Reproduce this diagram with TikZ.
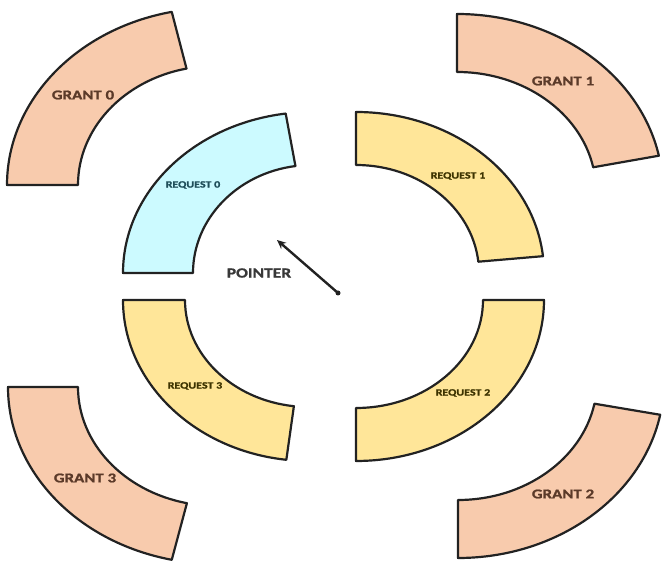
\documentclass[tikz,border=0pt]{standalone}
\usepackage{fontspec}
\setmainfont{Carlito}
\newfontfamily\lblfont[FakeStretch=1.25,FakeBold=1.2]{Carlito}
\usetikzlibrary{calc,arrows.meta}

\definecolor{grantfill}{HTML}{F8CBAD}
\definecolor{reqfill}{HTML}{FFE699}
\definecolor{activefill}{HTML}{CCFAFF}
\definecolor{granttext}{HTML}{5B3A29}
\definecolor{reqtext}{HTML}{3D3300}
\definecolor{activetext}{HTML}{1F4E5A}
\definecolor{edge}{HTML}{222222}

% block arc: style, centre, start, end, outer x/y radius, inner x/y radius
\newcommand{\ringpart}[8]{%
  \draw[#1] ($(#2)+(#3:#5 and #6)$) arc[start angle=#3, end angle=#4, x radius=#5, y radius=#6]
    -- ($(#2)+(#4:#7 and #8)$) arc[start angle=#4, end angle=#3, x radius=#7, y radius=#8] -- cycle;}

\begin{document}
\begin{tikzpicture}[x=1pt, y=1pt,
    grantarc/.style={draw=edge, line width=2.2pt, fill=grantfill, line join=round},
    reqarc/.style={draw=edge, line width=2.2pt, fill=reqfill, line join=round},
    activearc/.style={draw=edge, line width=2.2pt, fill=activefill, line join=round},
    grantlbl/.style={font=\lblfont\bfseries\fontsize{13.5}{14}\selectfont, text=granttext, inner sep=0},
    reqlbl/.style={font=\lblfont\bfseries\fontsize{9.6}{10}\selectfont, text=reqtext, inner sep=0},
    pointer/.style={line width=2.4pt, draw=edge, -{Stealth[length=9pt, width=8pt]}}]
    \useasboundingbox (0,0) rectangle (662,565);

    \coordinate (g0c) at (215,380);
    \coordinate (g1c) at (457,374);
    \coordinate (g2c) at (458,184);
    \coordinate (g3c) at (217,178);
    \coordinate (r0c) at (312,292);
    \coordinate (r1c) at (356,292);
    \coordinate (r2c) at (356,265);
    \coordinate (r3c) at (309,265);

    \ringpart{grantarc}{g0c}{180}{102}{208}{177}{137}{119}
    \ringpart{grantarc}{g1c}{90}{11.5}{206}{177}{139}{119}
    \ringpart{grantarc}{g2c}{270}{349}{206}{177}{139}{119}
    \ringpart{grantarc}{g3c}{180}{257.5}{209}{177}{139}{119}

    \ringpart{activearc}{r0c}{180}{98}{189}{161}{119}{108}
    \ringpart{reqarc}{r1c}{90}{6}{188}{161}{123}{108}
    \ringpart{reqarc}{r2c}{270}{360}{188}{161}{127}{108}
    \ringpart{reqarc}{r3c}{180}{263}{186}{161}{124}{107}

    \node[grantlbl] (g0) at (83,470) {GRANT 0};
    \node[grantlbl] (g1) at (563,484) {GRANT 1};
    \node[grantlbl] (g2) at (563,71) {GRANT 2};
    \node[grantlbl] (g3) at (85,87) {GRANT 3};
    \node[reqlbl, text=activetext] (r0) at (193,380) {REQUEST 0};
    \node[reqlbl] (r1) at (458,389) {REQUEST 1};
    \node[reqlbl] (r2) at (463,172) {REQUEST 2};
    \node[reqlbl] (r3) at (195,179) {REQUEST 3};

    \node[font=\lblfont\bfseries\fontsize{14}{15}\selectfont, text=edge!90, inner sep=0] (ptr) at (259,292) {POINTER};
    \coordinate (hub) at (338,272);
    \coordinate (tip) at (277,325);
    \draw[pointer] (hub) -- (tip);
    \fill[edge] (hub) circle (2.5);
\end{tikzpicture}
\end{document}
